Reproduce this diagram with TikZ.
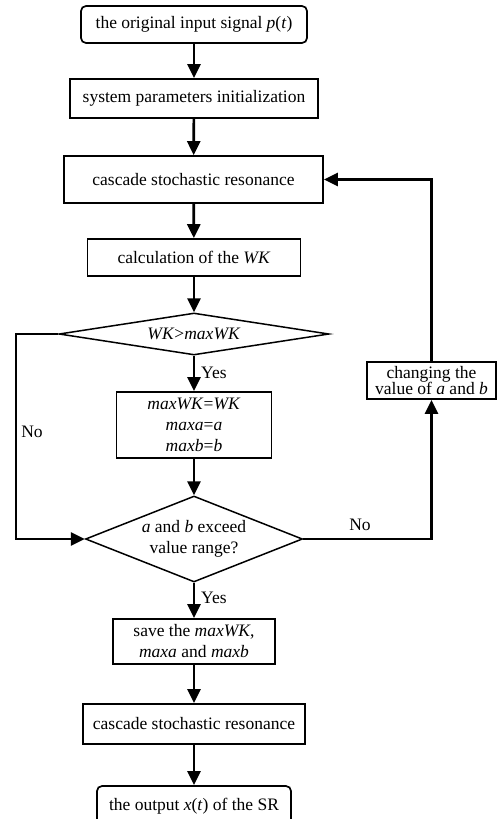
\documentclass[tikz,border=0pt]{standalone}
\usepackage{fontspec}
\setmainfont{Liberation Serif}
\usetikzlibrary{shapes.geometric,arrows.meta}
\begin{document}
\begin{tikzpicture}[x=1pt,y=-1pt,
  every node/.style={font=\fontsize{17.5}{21}\selectfont, inner sep=0pt},
  proc/.style={draw, line width=1.7pt, align=center},
  rproc/.style={proc, rounded corners=5pt},
  dec/.style={draw, diamond, line width=1.5pt, align=center},
  flow/.style={line width=2.7pt, -{Triangle[length=14pt,width=13pt]}},
  lab/.style={font=\fontsize{17.5}{21}\selectfont}
]
\useasboundingbox (0,0) rectangle (497,819);
\clip (0,0) rectangle (497,819);

\node[rproc, minimum width=226pt, minimum height=37pt] (n1) at (194,24.5) {the original input signal \textit{p}(\textit{t})};
\node[proc, minimum width=248pt, minimum height=39pt] (n2) at (194,98.5) {system parameters initialization};
\node[proc, minimum width=259pt, minimum height=47pt] (n3) at (193.5,179.5) {cascade stochastic resonance};
\node[proc, minimum width=213pt, minimum height=37pt] (n4) at (194,257.5) {calculation of the \textit{WK}};
\node[dec, aspect=6.43, minimum width=270pt, minimum height=42pt] (d1) at (194,334) {\textit{WK}>\textit{maxWK}};
\node[proc, minimum width=155pt, minimum height=66pt] (n5) at (194,425) {\textit{maxWK}=\textit{WK}\\\textit{maxa}=\textit{a}\\\textit{maxb}=\textit{b}};
\node[dec, aspect=2.52, minimum width=217pt, minimum height=86pt] (d2) at (194,539) {\textit{a} and \textit{b} exceed\\value range?};
\node[proc, minimum width=162pt, minimum height=45pt] (n6) at (194,641.5) {save the \textit{maxWK},\\\textit{maxa} and \textit{maxb}};
\node[proc, minimum width=222pt, minimum height=40pt] (n7) at (194,724) {cascade stochastic resonance};
\node[rproc, minimum width=194pt, minimum height=40pt] (n8) at (194,806) {the output \textit{x}(\textit{t}) of the SR};
\node[proc, minimum width=129pt, minimum height=37pt, font=\fontsize{17.5}{16.5}\selectfont] (nc) at (431.5,380.5) {changing the\\value of \textit{a} and \textit{b}};

\coordinate (L) at (16,334);

\draw[flow] (n1) -- (n2);
\draw[flow] (n2) -- (n3);
\draw[flow] (n3) -- (n4);
\draw[flow] (n4) -- (d1);
\draw[flow] (d1) -- (n5);
\draw[flow] (n5) -- (d2);
\draw[flow] (d2) -- (n6);
\draw[flow] (n6) -- (n7);
\draw[flow] (n7) -- (n8);
\draw[flow] (d1.west) -- (L) |- (d2.west);
\draw[flow] (d2.east) -| (nc.south);
\draw[flow] (nc.north) |- (n3.east);

\node[lab, anchor=west] (y1) at (201,373) {Yes};
\node[lab, anchor=west] (y2) at (201,598) {Yes};
\node[lab] (no1) at (32,432) {No};
\node[lab] (no2) at (360,525) {No};
\end{tikzpicture}
\end{document}
